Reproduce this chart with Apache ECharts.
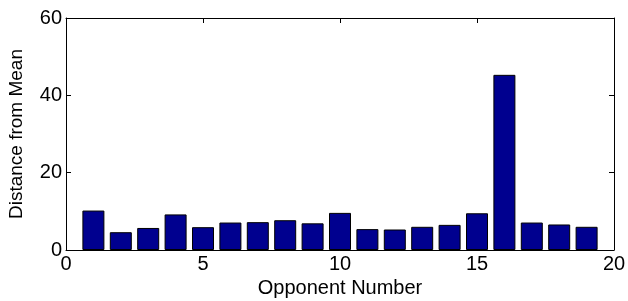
<!DOCTYPE html>
<html>
<head>
<meta charset="utf-8">
<script src="https://cdn.jsdelivr.net/npm/echarts@6/dist/echarts.min.js"></script>
<style>
  html, body { margin: 0; padding: 0; background: #fff; }
  #chart { width: 628px; height: 301px; }
</style>
</head>
<body>
<div id="chart"></div>
<script>
  var opponents = [1, 2, 3, 4, 5, 6, 7, 8, 9, 10, 11, 12, 13, 14, 15, 16, 17, 18, 19];
  var distances = [10.2, 4.6, 5.7, 9.2, 5.9, 7.1, 7.2, 7.7, 6.9, 9.6, 5.4, 5.3, 6.0, 6.5, 9.5, 45.3, 7.1, 6.6, 6.0];

  var font = 'Liberation Sans, Arial, Helvetica, sans-serif';
  var barData = opponents.map(function (x, i) { return [x, distances[i]]; });

  var chart = echarts.init(document.getElementById('chart'));
  chart.setOption({
    animation: false,
    grid: { left: 66, right: 14, top: 18, bottom: 51, outerBoundsMode: 'none', containLabel: false },
    xAxis: [
      {
        type: 'value', min: 0, max: 20, interval: 5,
        name: 'Opponent Number', nameLocation: 'middle', nameGap: 28,
        nameTextStyle: { color: '#000', fontSize: 20, fontFamily: font },
        axisLine: { show: true, onZero: false, lineStyle: { color: '#000', width: 1 } },
        axisTick: { inside: true, length: 5, lineStyle: { color: '#000' } },
        axisLabel: { color: '#000', fontSize: 20, fontFamily: font, margin: 4 },
        splitLine: { show: false }
      },
      {
        type: 'value', min: 0, max: 20, interval: 5, position: 'top',
        axisLine: { show: true, onZero: false, lineStyle: { color: '#000', width: 1 } },
        axisTick: { inside: true, length: 5, lineStyle: { color: '#000' } },
        axisLabel: { show: false },
        splitLine: { show: false }
      }
    ],
    yAxis: [
      {
        type: 'value', min: 0, max: 60, interval: 20,
        name: 'Distance from Mean', nameLocation: 'middle', nameGap: 40,
        nameTextStyle: { color: '#000', fontSize: 19, fontFamily: font },
        axisLine: { show: true, onZero: false, lineStyle: { color: '#000', width: 1 } },
        axisTick: { show: true, inside: true, length: 5, lineStyle: { color: '#000' } },
        axisLabel: { color: '#000', fontSize: 20, fontFamily: font, margin: 4 },
        splitLine: { show: false }
      },
      {
        type: 'value', min: 0, max: 60, interval: 20, position: 'right',
        axisLine: { show: true, onZero: false, lineStyle: { color: '#000', width: 1 } },
        axisTick: { show: true, inside: true, length: 5, lineStyle: { color: '#000' } },
        axisLabel: { show: false },
        splitLine: { show: false }
      }
    ],
    series: [
      {
        name: 'Distance from Mean',
        type: 'bar',
        data: barData,
        barWidth: 22,
        itemStyle: { color: '#00008f', borderColor: '#000', borderWidth: 1 }
      }
    ]
  });
</script>
</body>
</html>
